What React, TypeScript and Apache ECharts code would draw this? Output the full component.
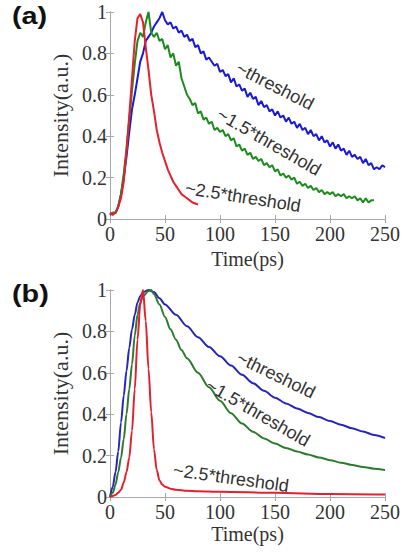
import React, { useEffect, useRef } from "react";
import * as echarts from "echarts";

// ---- Panel (a): measured (noisy) curves, sampled every 2.5 ps ----
const stepA = 2.5;
const blueA = [
  0.02, 0.03, 0.03, 0.06, 0.12, 0.2, 0.3, 0.42, 0.53, 0.6,
  0.68, 0.76, 0.8, 0.86, 0.88, 0.9, 0.93, 0.95, 0.97, 1.0,
  0.96, 0.94, 0.95, 0.92, 0.93, 0.9, 0.91, 0.88, 0.89, 0.86,
  0.87, 0.83, 0.84, 0.8, 0.81, 0.77, 0.78, 0.76, 0.74, 0.75,
  0.71, 0.72, 0.69, 0.7, 0.66, 0.68, 0.64, 0.65, 0.62, 0.63,
  0.59, 0.61, 0.58, 0.59, 0.55, 0.57, 0.54, 0.55, 0.52, 0.53,
  0.5, 0.52, 0.49, 0.5, 0.47, 0.49, 0.46, 0.47, 0.44, 0.46,
  0.43, 0.44, 0.41, 0.43, 0.4, 0.41, 0.38, 0.4, 0.37, 0.38,
  0.35, 0.37, 0.34, 0.36, 0.33, 0.34, 0.31, 0.33, 0.3, 0.31,
  0.29, 0.3, 0.27, 0.29, 0.26, 0.27, 0.24, 0.25, 0.24, 0.26,
  0.25,
];
const greenA = [
  0.02, 0.03, 0.03, 0.06, 0.12, 0.22, 0.34, 0.48, 0.62, 0.75,
  0.86, 0.9, 0.88, 0.95, 1.0, 0.9, 0.88, 0.9, 0.86, 0.87,
  0.82, 0.84, 0.78, 0.8, 0.74, 0.76, 0.68, 0.64, 0.6, 0.58,
  0.55, 0.56, 0.51, 0.52, 0.48, 0.49, 0.46, 0.47, 0.43, 0.44,
  0.42, 0.43, 0.4, 0.41, 0.38, 0.39, 0.35, 0.36, 0.33, 0.34,
  0.31, 0.32, 0.29, 0.3, 0.28, 0.29, 0.26, 0.27, 0.25, 0.26,
  0.23, 0.24, 0.21, 0.22, 0.2, 0.21, 0.19, 0.2, 0.17, 0.18,
  0.16, 0.17, 0.15, 0.16, 0.14, 0.15, 0.13, 0.14, 0.12, 0.13,
  0.12, 0.13, 0.11, 0.12, 0.11, 0.12, 0.1, 0.11, 0.1, 0.11,
  0.09, 0.1, 0.08, 0.1, 0.08, 0.09, 0.09,
];
const redA = [
  0.03, 0.02, 0.03, 0.06, 0.1, 0.18, 0.33, 0.5, 0.68, 0.86,
  0.97, 0.99, 0.95, 0.83, 0.72, 0.6, 0.52, 0.43, 0.37, 0.32,
  0.28, 0.24, 0.21, 0.18, 0.16, 0.14, 0.12, 0.11, 0.1, 0.09,
  0.08, 0.075, 0.07,
];

// ---- Panel (b): simulated (smooth) curves ----
const timeBlueB = [0, 2.5, 5, 7.5, 10, 12.5, 15, 17.5, 20, 22.5, 25, 27.5, 30, 35, 40, 45, 50, 60, 70, 80, 90, 100, 110, 120, 130, 140, 150, 160, 170, 180, 190, 200, 210, 220, 230, 240, 250];
const blueB = [0, 0.05, 0.12, 0.22, 0.36, 0.49, 0.61, 0.72, 0.81, 0.88, 0.94, 0.97, 0.99, 1.0, 0.99, 0.96, 0.93, 0.88, 0.825, 0.772, 0.725, 0.68, 0.635, 0.59, 0.55, 0.513, 0.48, 0.452, 0.428, 0.406, 0.386, 0.367, 0.349, 0.332, 0.316, 0.3, 0.285];
const timeGreenB = [0, 2.5, 5, 7.5, 10, 12.5, 15, 17.5, 20, 22.5, 25, 27.5, 30, 35, 37.5, 40, 45, 50, 55, 60, 65, 70, 80, 90, 100, 110, 120, 130, 140, 150, 160, 170, 180, 190, 200, 210, 220, 230, 240, 250];
const greenB = [0, 0.02, 0.06, 0.12, 0.19, 0.28, 0.4, 0.52, 0.64, 0.78, 0.88, 0.94, 0.97, 0.995, 1.0, 0.98, 0.93, 0.87, 0.81, 0.76, 0.71, 0.67, 0.6, 0.53, 0.465, 0.405, 0.355, 0.315, 0.283, 0.258, 0.237, 0.22, 0.205, 0.191, 0.178, 0.166, 0.155, 0.145, 0.137, 0.13];
const timeRedB = [0, 2.5, 5, 7.5, 10, 12.5, 15, 17.5, 20, 22.5, 25, 27.5, 30, 32.5, 35, 37.5, 40, 42.5, 45, 47.5, 50, 55, 60, 70, 80, 100, 150, 200, 250];
const redB = [0, 0.005, 0.01, 0.02, 0.035, 0.07, 0.12, 0.19, 0.32, 0.52, 0.76, 0.93, 1.0, 0.85, 0.62, 0.41, 0.23, 0.13, 0.08, 0.06, 0.05, 0.04, 0.035, 0.03, 0.028, 0.025, 0.02, 0.015, 0.012];

const xTickLabels = ["0", "50", "100", "150", "200", "250"];
const yTickLabels = ["0", "0.2", "0.4", "0.6", "0.8", "1"];
const curveLabels = ["~threshold", "~1.5*threshold", "~2.5*threshold"];
const panelLabels = ["(a)", "(b)"];

const zipStep = (vals: number[], step: number) => vals.map((v, i) => [i * step, v]);
const zip = (ts: number[], vals: number[]) => ts.map((t, i) => [t, vals[i]]);

const SERIF = "'Liberation Serif', 'Times New Roman', serif";
const SANS = "'Liberation Sans', Arial, sans-serif";

export default function App() {
  const ref = useRef<HTMLDivElement>(null);
  useEffect(() => {
    document.body.style.margin = "0";
    if (!ref.current) return;
    const chart = echarts.init(ref.current, undefined, { renderer: "svg" });

    const axisLine = { show: true, lineStyle: { color: "#a8a8a8", width: 1 } };
    const tick = { show: true, inside: true, length: 4, lineStyle: { color: "#a8a8a8" } };

    const mkX = (gridIndex: number, main: boolean, nameGap: number) => ({
      type: "value",
      gridIndex,
      position: main ? "bottom" : "top",
      min: 0,
      max: 250,
      interval: 50,
      axisLine,
      axisTick: tick,
      splitLine: { show: false },
      axisLabel: main
        ? {
            show: true,
            margin: 5,
            fontFamily: SERIF,
            fontSize: 20,
            color: "#333",
            formatter: (_v: number, i: number) => xTickLabels[i],
          }
        : { show: false },
      name: main ? "Time(ps)" : "",
      nameLocation: "middle",
      nameGap,
      nameTextStyle: { fontFamily: SERIF, fontSize: 20, color: "#333" },
    });
    const mkY = (gridIndex: number, main: boolean) => ({
      type: "value",
      gridIndex,
      position: main ? "left" : "right",
      min: 0,
      max: 1,
      interval: 0.2,
      axisLine,
      axisTick: tick,
      splitLine: { show: false },
      axisLabel: main
        ? {
            show: true,
            margin: 3,
            fontFamily: SERIF,
            fontSize: 20,
            color: "#333",
            formatter: (_v: number, i: number) => yTickLabels[i],
          }
        : { show: false },
      name: main ? "Intensity(a.u.)" : "",
      nameLocation: "middle",
      nameGap: 34,
      nameTextStyle: { fontFamily: SERIF, fontSize: 22, color: "#333" },
    });

    const line = (data: number[][], color: string, xi: number, yi: number, smooth: boolean, z: number) => ({
      type: "line",
      xAxisIndex: xi,
      yAxisIndex: yi,
      data,
      showSymbol: false,
      smooth: smooth ? 0.3 : false,
      smoothMonotone: smooth ? "x" : undefined,
      lineStyle: { color, width: 2 },
      z,
    });

    const deg = Math.PI / 180;
    const label = (text: string, x: number, y: number, angle: number) => ({
      type: "text",
      x,
      y,
      rotation: -angle * deg,
      style: {
        text,
        fill: "#333",
        font: `18px ${SANS}`,
        align: "center",
        verticalAlign: "middle",
      },
      z: 10,
    });
    const panel = (text: string, x: number, y: number) => ({
      type: "text",
      x,
      y,
      scaleX: 1.2,
      style: { text, fill: "#111", font: `bold 24px ${SANS}`, align: "left", verticalAlign: "top" },
    });

    chart.setOption({
      animation: false,
      backgroundColor: "#fff",
      grid: [
        { left: 110, top: 12, width: 277, height: 207 },
        { left: 110, top: 290, width: 277, height: 207 },
      ],
      xAxis: [mkX(0, true, 30), mkX(0, false, 0), mkX(1, true, 27), mkX(1, false, 0)],
      yAxis: [mkY(0, true), mkY(0, false), mkY(1, true), mkY(1, false)],
      series: [
        line(zipStep(blueA, stepA), "#1a1ad2", 0, 0, false, 2),
        line(zipStep(greenA, stepA), "#1e8a1e", 0, 0, false, 3),
        line(zipStep(redA, stepA), "#e6202c", 0, 0, false, 4),
        line(zip(timeBlueB, blueB), "#2626b8", 2, 2, true, 2),
        line(zip(timeGreenB, greenB), "#2e7a2e", 2, 2, true, 3),
        line(zip(timeRedB, redB), "#e2202e", 2, 2, true, 4),
      ],
      graphic: [
        panel(panelLabels[0], 12, 4),
        panel(panelLabels[1], 12, 282),
        label(curveLabels[0], 275, 86, 27),
        label(curveLabels[1], 269, 142, 30),
        label(curveLabels[2], 243, 197, 9),
        label(curveLabels[0], 276, 375, 26),
        label(curveLabels[1], 258, 413, 30),
        label(curveLabels[2], 231, 478, 8),
      ],
    });
    return () => chart.dispose();
  }, []);
  return <div ref={ref} style={{ width: 403, height: 552 }} />;
}
